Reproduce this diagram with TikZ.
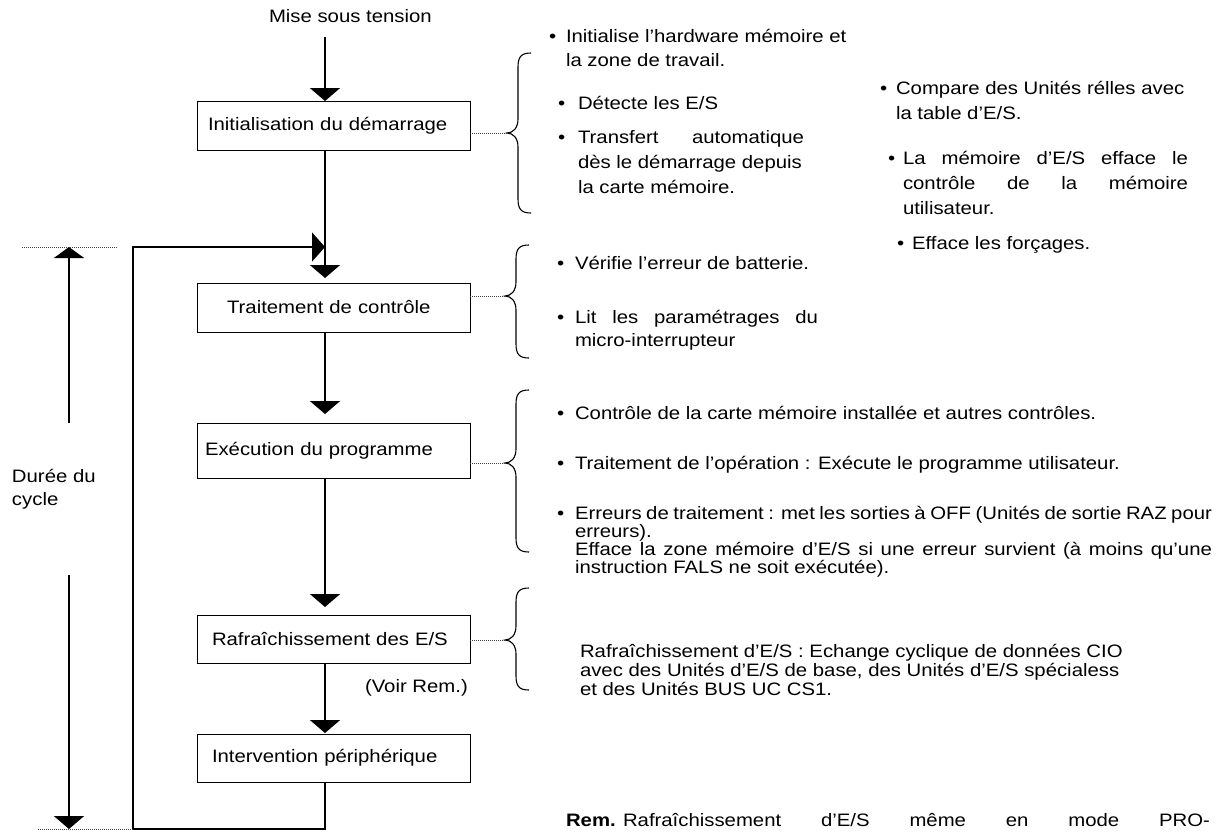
\documentclass[tikz,border=0pt]{standalone}
\usepackage{fontspec}
\setmainfont{Liberation Sans}[FakeStretch=1.13]
\usetikzlibrary{arrows.meta}

% curly brace: #1 tip x, #2 top y, #3 tip y, #4 bottom y
\newcommand\cbrace[4]{%
  \draw[bracestyle] ({#1+24},#2) .. controls ({#1+14},#2) and ({#1+11},{#2+4}) .. ({#1+11},{#2+14})
    -- ({#1+11},{#3-14}) .. controls ({#1+11},{#3-5}) and ({#1+6},#3) .. (#1,#3)
    .. controls ({#1+6},#3) and ({#1+11},{#3+5}) .. ({#1+11},{#3+14})
    -- ({#1+11},{#4-14}) .. controls ({#1+11},{#4-4}) and ({#1+14},#4) .. ({#1+24},#4);}

\begin{document}
\begin{tikzpicture}[x=1pt,y=-1pt,
  every node/.style={inner sep=0pt,outer sep=0pt},
  txt/.style={anchor=base west,font=\fontsize{18}{20}\selectfont},
  bul/.style={anchor=base west,font=\fontsize{18}{20}\selectfont},
  stepbox/.style={draw,line width=1pt,anchor=north west,minimum width=273pt,
    text width=273pt,align=left,font=\fontsize{18}{20}\selectfont},
  flow/.style={line width=2pt,-{Triangle[length=13pt,width=30pt]}},
  loopline/.style={line width=1.3pt},
  dotline/.style={line width=0.9pt,black!75,dash pattern=on 1pt off 1pt},
  bracestyle/.style={line width=1.1pt},
]
\useasboundingbox (0,0) rectangle (1222,833);

% ---- process steps ----
\node[txt] (mise) at (269,22) {Mise sous tension};
\node[stepbox,minimum height=49pt] (b1) at (197,101) {\hspace*{11pt}Initialisation du démarrage};
\node[stepbox,minimum height=49pt] (b2) at (197,283) {\hspace*{30pt}Traitement de contrôle};
\node[stepbox,minimum height=55pt] (b3) at (197,423) {\hspace*{8pt}Exécution du programme};
\node[stepbox,minimum height=48pt] (b4) at (197,615) {\hspace*{15pt}Rafraîchissement des E/S};
\node[stepbox,minimum height=48pt] (b5) at (197,734) {\hspace*{15pt}Intervention périphérique};
\node[txt] (voir) at (365,692) {(Voir Rem.)};

\coordinate (p0) at (325,37);
\draw[flow] (p0) -- (p0 |- b1.north);
\draw[flow,shorten >=5pt] (p0 |- b1.south) -- (p0 |- b2.north);
\draw[flow,shorten >=9pt] (p0 |- b2.south) -- (p0 |- b3.north);
\draw[flow,shorten >=8pt] (p0 |- b3.south) -- (p0 |- b4.north);
\draw[flow,shorten >=1pt] (p0 |- b4.south) -- (p0 |- b5.north);

% ---- return loop ----
\coordinate (lb) at (325,829);
\coordinate (ll) at (133,829);
\coordinate (lt) at (133,247);
\coordinate (lj) at (325,247);
\draw[loopline,-{Triangle[length=13pt,width=29pt]}] (lb |- b5.south) -- (lb) -- (ll) -- (lt) -- (lj);

% ---- cycle time ----
\coordinate (dl1) at (22,247);  \coordinate (dr1) at (118,247);
\coordinate (dl2) at (38,829);
\draw[dotline] (dl1) -- (dr1);
\draw[dotline] (dl2) -- (ll);
\coordinate (dtop) at (69,247); \coordinate (dup) at (69,423);
\coordinate (dlow) at (69,575); \coordinate (dbot) at (69,829);
\draw[flow,-{Triangle[length=11pt,width=30pt]}] (dup) -- (dtop);
\draw[flow] (dlow) -- (dbot);
\node[txt] (duree1) at (12,482) {Durée du};
\node[txt] (duree2) at (12,505) {cycle};

% ---- braces ----
\coordinate (k1) at (507,133);
\coordinate (k2) at (505,296);
\coordinate (k3) at (505,463);
\coordinate (k4) at (505,640);
\cbrace{507}{53}{133}{213}
\cbrace{505}{245}{296}{358}
\cbrace{505}{390}{463}{552}
\cbrace{505}{588}{640}{690}
\draw[dotline] (b1.east |- k1) -- (k1);
\draw[dotline] (b2.east |- k2) -- (k2);
\draw[dotline] (b3.east |- k3) -- (k3);
\draw[dotline] (b4.east |- k4) -- (k4);

% ---- start-up notes ----
\node[bul] (a1b) at (549,42) {•};
\node[txt] (a1) at (566,42) {Initialise l’hardware mémoire et};
\node[txt] (a1c) at (566,66) {la zone de travail.};
\node[bul] (a2b) at (558,109) {•};
\node[txt] (a2) at (578,109) {Détecte les E/S};
\node[bul] (a3b) at (558,143) {•};
\node[txt] (a3) at (578,143) {\makebox[226pt][s]{Transfert automatique}};
\node[txt] (a3c) at (578,168) {dès le démarrage depuis};
\node[txt] (a3d) at (578,193) {la carte mémoire.};

\node[bul] (c1b) at (880,94) {•};
\node[txt] (c1) at (896,94) {Compare des Unités rélles avec};
\node[txt] (c1c) at (896,119) {la table d’E/S.};
\node[bul] (c2b) at (888,164) {•};
\node[txt] (c2) at (903,164) {\makebox[285pt][s]{La mémoire d’E/S efface le}};
\node[txt] (c2c) at (903,189) {\makebox[285pt][s]{contrôle de la mémoire}};
\node[txt] (c2d) at (903,214) {utilisateur.};
\node[bul] (c3b) at (897,249) {•};
\node[txt] (c3) at (912,249) {Efface les forçages.};

% ---- control notes ----
\node[bul] (e1b) at (557,269) {•};
\node[txt] (e1) at (575,269) {Vérifie l’erreur de batterie.};
\node[bul] (e2b) at (557,323) {•};
\node[txt] (e2) at (575,323) {\makebox[243pt][s]{Lit les paramétrages du}};
\node[txt] (e2c) at (575,346) {micro-interrupteur};

% ---- program notes ----
\node[bul] (g1b) at (557,419) {•};
\node[txt] (g1) at (575,419) {Contrôle de la carte mémoire installée et autres contrôles.};
\node[bul] (g2b) at (557,469) {•};
\node[txt] (g2) at (575,469) {Traitement de l’opération : Exécute le programme utilisateur.};
\node[bul] (g3b) at (557,519) {•};
\node[txt] (g3) at (575,519) {\makebox[637pt][s]{Erreurs de traitement : met les sorties à OFF (Unités de sortie RAZ pour}};
\node[txt] (g3c) at (575,537) {erreurs).};
\node[txt] (g3d) at (575,555) {\makebox[637pt][s]{Efface la zone mémoire d’E/S si une erreur survient (à moins qu’une}};
\node[txt] (g3e) at (575,573) {instruction FALS ne soit exécutée).};

% ---- refresh notes ----
\node[txt] (r1) at (580,657) {Rafraîchissement d’E/S : Echange cyclique de données CIO};
\node[txt] (r2) at (580,676) {avec des Unités d’E/S de base, des Unités d’E/S spécialess};
\node[txt] (r3) at (580,695) {et des Unités BUS UC CS1.};

% ---- remark ----
\node[txt] (rem) at (566,826) {\textbf{Rem.}};
\node[txt] (rem2) at (623,826) {\makebox[587pt][s]{Rafraîchissement d’E/S même en mode PRO-}};
\end{tikzpicture}
\end{document}
